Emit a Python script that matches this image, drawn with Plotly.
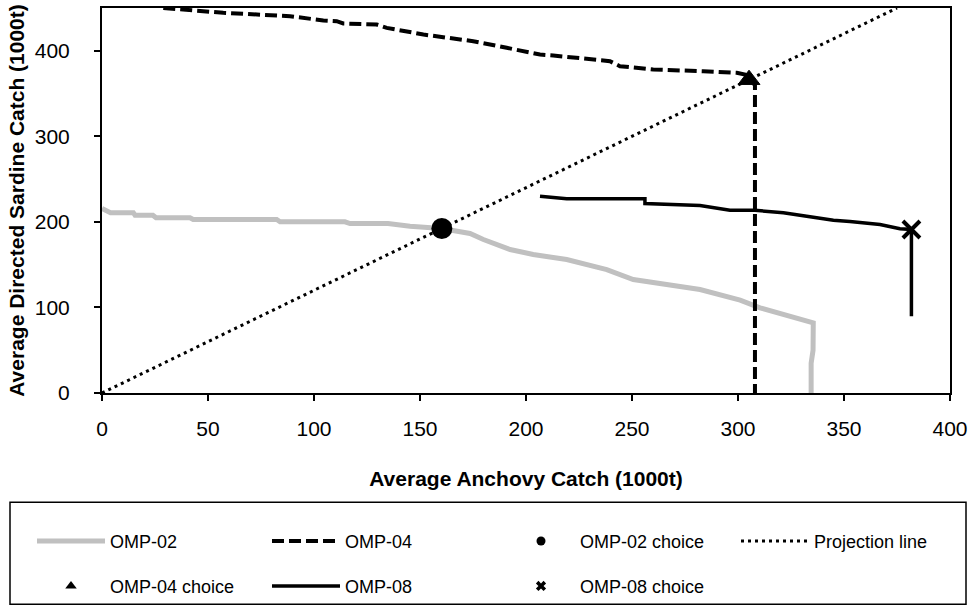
import plotly.graph_objects as go

# ---- data ----
omp02_x = [0, 4, 14.8, 15.6, 24, 25.5, 41.5, 43, 82.4, 84, 114.6, 117, 134.9, 140.6, 145.3,
           160.2, 173.6, 179.9, 192.5, 203.4, 219.2, 238.1, 250.6, 282.1, 301, 310.4, 335.5,
           335.4, 334.5, 334.5]
omp02_y = [215.6, 210.7, 210.6, 207.8, 207.8, 204.8, 204.8, 202.8, 202.8, 200.1, 200.1, 198.1,
           198.1, 196.1, 195, 192.3, 186.4, 179.4, 167.7, 161.9, 156, 144.3, 132.7, 121, 108.5,
           99.6, 82, 50, 35, 0]

omp04_x = [28.9, 57.2, 88.7, 104.4, 110.7, 113.8, 129.6, 134.3, 151.6, 167.3, 175.1, 190.9,
           206.6, 212.9, 228.6, 239.6, 244.3, 260, 283.6, 299.4, 303.3, 308, 308]
omp04_y = [450, 444.4, 440.4, 435.4, 434.6, 431.9, 430.7, 426.8, 419, 413.2, 411.2, 403.5,
           395.6, 394.5, 390.6, 387.8, 382, 378.1, 376.1, 374.2, 372.2, 360, 0]

omp08_x = [206.6, 219.2, 256.1, 256.1, 282.1, 296.2, 308, 321.4, 332.4, 345, 352.8, 367, 376.4,
           381.8, 381.8]
omp08_y = [230, 227, 227, 221.5, 219.1, 213.6, 213.6, 210.6, 206.6, 202, 200.4, 197, 191.9,
           191.1, 89.8]

proj_x = [0, 375]
proj_y = [0, 450]

omp02_choice = ([160.3], [192.3])
omp04_choice = ([305.2], [366.2])
omp08_choice = ([381.8], [191.1])

x_ticks = [0, 50, 100, 150, 200, 250, 300, 350, 400]
y_ticks = [0, 100, 200, 300, 400]

FONT = "Arial, Liberation Sans, sans-serif"
GREY = "#c0c0c0"

fig = go.Figure()

# main curves + legend entries (row 1: legend / legend3, row 2: legend2)
fig.add_trace(go.Scatter(x=omp02_x, y=omp02_y, mode="lines", name="OMP-02",
                         line=dict(color=GREY, width=5), legend="legend"))
fig.add_trace(go.Scatter(x=omp04_x, y=omp04_y, mode="lines", name="OMP-04",
                         line=dict(color="black", width=4, dash="12px,5px"), legend="legend"))
fig.add_trace(go.Scatter(x=[None], y=[None], mode="markers", name="OMP-02 choice",
                         marker=dict(symbol="circle", size=9, color="black"), legend="legend"))
fig.add_trace(go.Scatter(x=proj_x, y=proj_y, mode="lines", name="Projection line",
                         line=dict(color="black", width=3, dash="3px,4px"), legend="legend3"))
fig.add_trace(go.Scatter(x=[None], y=[None], mode="markers", name="OMP-04 choice",
                         marker=dict(symbol="triangle-up", size=10, color="black"), legend="legend2"))
fig.add_trace(go.Scatter(x=omp08_x, y=omp08_y, mode="lines", name="OMP-08",
                         line=dict(color="black", width=3.5), legend="legend2"))
fig.add_trace(go.Scatter(x=[None], y=[None], mode="markers", name="OMP-08 choice",
                         marker=dict(symbol="x", size=9, color="black"), legend="legend2"))

# choice markers on the plot
fig.add_trace(go.Scatter(x=omp02_choice[0], y=omp02_choice[1], mode="markers", showlegend=False,
                         marker=dict(symbol="circle", size=21, color="black")))
fig.add_trace(go.Scatter(x=omp04_choice[0], y=omp04_choice[1], mode="markers", showlegend=False,
                         marker=dict(symbol="triangle-up", size=19, color="black",
                                     line=dict(color="black", width=1))))
fig.add_trace(go.Scatter(x=omp08_choice[0], y=omp08_choice[1], mode="markers", showlegend=False,
                         marker=dict(symbol="x-thin", size=17, color="black",
                                     line=dict(color="black", width=4))))

H = 385.5
def py(p):
    return (393.5 - p) / H

def px(p):
    return (p - 102) / 848

legend_common = dict(orientation="h", bgcolor="rgba(0,0,0,0)", borderwidth=0,
                     font=dict(family=FONT, size=18, color="black"),
                     itemwidth=68, entrywidth=152, entrywidthmode="pixels",
                     xanchor="left", yanchor="middle", traceorder="normal")

fig.update_layout(
    width=974, height=616,
    margin=dict(l=102, r=24, t=8, b=222.5, autoexpand=False),
    paper_bgcolor="white", plot_bgcolor="white",
    font=dict(family=FONT, color="black"),
    legend=dict(x=px(32), y=py(542), **legend_common),
    legend2=dict(x=px(32), y=py(587), **legend_common),
    legend3=dict(x=px(736), y=py(542), **legend_common),
    shapes=[dict(type="rect", xref="paper", yref="paper",
                 x0=px(10), x1=px(966), y0=py(605), y1=py(503),
                 line=dict(color="black", width=1.5), fillcolor="rgba(0,0,0,0)")],
)

fig.update_xaxes(range=[0, 400], tickvals=x_ticks, showgrid=False, zeroline=False,
                 automargin=False,
                 showline=True, linecolor="black", linewidth=2, mirror=True,
                 ticks="outside", ticklen=6, tickwidth=2, tickcolor="black",
                 tickfont=dict(family=FONT, size=21, color="black"), ticklabelstandoff=10,
                 title=dict(text="<b>Average Anchovy Catch (1000t)</b>", standoff=32,
                            font=dict(family=FONT, size=21, color="black")))
fig.update_yaxes(range=[0, 450], tickvals=y_ticks, showgrid=False, zeroline=False,
                 automargin=False,
                 showline=True, linecolor="black", linewidth=2, mirror=True,
                 ticks="outside", ticklen=6, tickwidth=2, tickcolor="black",
                 tickfont=dict(family=FONT, size=21, color="black"), ticklabelstandoff=20,
                 title=dict(text="<b>Average Directed Sardine Catch (1000t)</b>", standoff=4,
                            font=dict(family=FONT, size=21, color="black")))

fig.write_html("out.html")
